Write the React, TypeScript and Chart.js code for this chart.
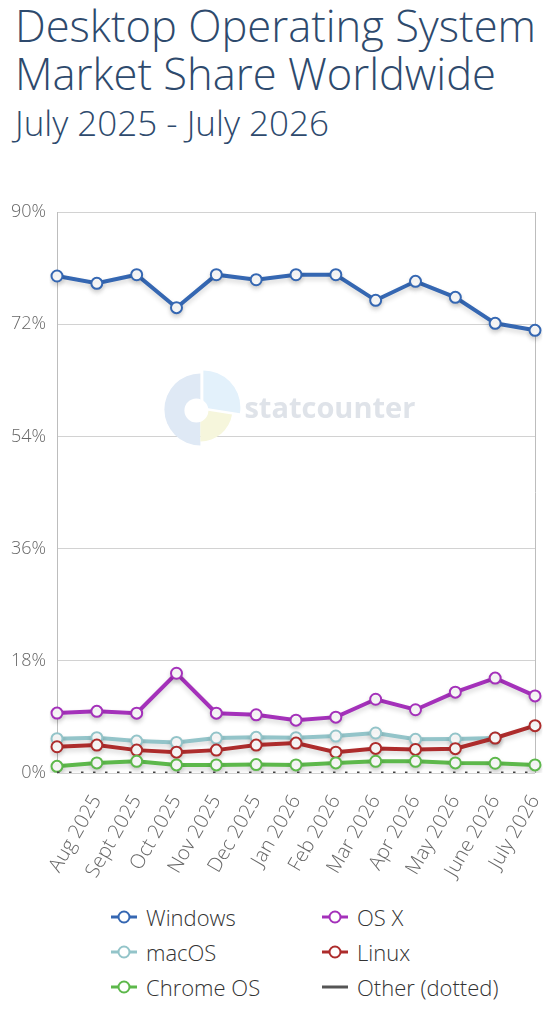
import React, { useEffect, useRef } from "react";
import { Chart, registerables } from "chart.js";

Chart.register(...registerables);

const months = [
  "July 2025", "Aug 2025", "Sept 2025", "Oct 2025", "Nov 2025", "Dec 2025",
  "Jan 2026", "Feb 2026", "Mar 2026", "Apr 2026", "May 2026", "June 2026", "July 2026",
];
const windows = [79.73, 78.56, 79.94, 74.65, 79.94, 79.14, 79.94, 79.94, 75.83, 78.88, 76.31, 72.14, 71.02];
const osx = [9.61, 9.89, 9.6, 16.0, 9.6, 9.34, 8.48, 8.96, 11.83, 10.15, 12.97, 15.23, 12.37];
const macos = [5.51, 5.67, 5.12, 4.91, 5.61, 5.72, 5.67, 5.93, 6.42, 5.4, 5.45, 5.61, null];
const linux = [4.21, 4.48, 3.67, 3.34, 3.67, 4.48, 4.8, 3.34, 3.94, 3.78, 3.9, 5.61, 7.6];
const chromeos = [1.07, 1.62, 1.88, 1.3, 1.3, 1.35, 1.3, 1.62, 1.88, 1.88, 1.62, 1.56, 1.3];
const other = [0.08, 0.08, 0.08, 0.08, 0.08, 0.08, 0.08, 0.08, 0.08, 0.08, 0.08, 0.08, 0.08];
const yTicks = [0, 18, 36, 54, 72, 90];

const FONT = "'Open Sans', 'Noto Sans', sans-serif";

const series = [
  { label: "Windows", data: windows, color: "#3567b2", order: 3 },
  { label: "OS X", data: osx, color: "#a431ba", order: 4 },
  { label: "macOS", data: macos, color: "#93c4c9", order: 5 },
  { label: "Linux", data: linux, color: "#ad2c2c", order: 2 },
  { label: "Chrome OS", data: chromeos, color: "#5db84b", order: 1 },
];

const legendItems = [
  { label: "Windows", color: "#3567b2", dotted: false },
  { label: "OS X", color: "#a431ba", dotted: false },
  { label: "macOS", color: "#93c4c9", dotted: false },
  { label: "Linux", color: "#ad2c2c", dotted: false },
  { label: "Chrome OS", color: "#5db84b", dotted: false },
  { label: "Other (dotted)", color: "#555555", dotted: true },
];

const shadowPlugin = {
  id: "lineShadow",
  beforeDatasetDraw(chart: any) {
    const ctx = chart.ctx;
    ctx.save();
    ctx.shadowColor = "rgba(0,0,0,0.16)";
    ctx.shadowBlur = 5;
    ctx.shadowOffsetX = 0;
    ctx.shadowOffsetY = 3;
  },
  afterDatasetDraw(chart: any) {
    chart.ctx.restore();
  },
};

const framePlugin = {
  id: "frameAndMark",
  beforeDatasetsDraw(chart: any) {
    const ctx = chart.ctx;
    const a = chart.chartArea;
    ctx.save();
    ctx.strokeStyle = "#bdbdbd";
    ctx.lineWidth = 1;
    ctx.beginPath();
    ctx.moveTo(Math.round(a.right) + 0.5, a.top);
    ctx.lineTo(Math.round(a.right) + 0.5, a.bottom);
    ctx.stroke();
    const cx = a.left + (a.right - a.left) * 0.3;
    const cy = a.top + (a.bottom - a.top) * 0.352;
    const R = 36;
    ctx.beginPath();
    ctx.moveTo(cx, cy);
    ctx.arc(cx, cy, R, Math.PI * 0.5, Math.PI * 1.5);
    ctx.closePath();
    ctx.fillStyle = "#dfe9f5";
    ctx.fill();
    ctx.beginPath();
    ctx.moveTo(cx + 3, cy - 2);
    ctx.arc(cx + 3, cy - 2, R + 1, Math.PI * 1.5, Math.PI * 2.05);
    ctx.closePath();
    ctx.fillStyle = "#e3f1fb";
    ctx.fill();
    ctx.beginPath();
    ctx.moveTo(cx, cy);
    ctx.arc(cx, cy, R - 4, Math.PI * 0.05, Math.PI * 0.5);
    ctx.closePath();
    ctx.fillStyle = "#f6f6dc";
    ctx.fill();
    ctx.beginPath();
    ctx.arc(cx - 4, cy + 1, 12, 0, Math.PI * 2);
    ctx.fillStyle = "#ffffff";
    ctx.fill();
    ctx.font = `bold 29px ${FONT}`;
    ctx.fillStyle = "#dfe3e9";
    ctx.textBaseline = "alphabetic";
    ctx.fillText("statcounter", cx + 44, cy + 9);
    ctx.restore();
  },
};

function LegendMarker({ color, dotted }: { color: string; dotted: boolean }) {
  return (
    <svg width="28" height="16" style={{ display: "block" }}>
      <line x1="1" y1="8" x2="27" y2="8" stroke={color} strokeWidth={3} />
      {!dotted && <circle cx="14" cy="8" r="5.5" fill="#fff" stroke={color} strokeWidth={2} />}
    </svg>
  );
}

export default function App() {
  const ref = useRef<HTMLCanvasElement | null>(null);

  useEffect(() => {
    document.body.style.margin = "0";
    const canvas = ref.current;
    if (!canvas) return;
    const datasets: any[] = series.map((s) => ({
      label: s.label,
      data: s.data,
      borderColor: s.color,
      backgroundColor: "#ffffff",
      pointBackgroundColor: "#ffffff",
      pointBorderColor: s.color,
      pointBorderWidth: 2,
      pointRadius: 5.5,
      borderWidth: 4,
      tension: 0,
      fill: false,
      order: s.order,
      spanGaps: false,
    }));
    datasets.push({
      label: "Other",
      data: other,
      borderColor: "#444444",
      borderWidth: 2,
      borderDash: [2.5, 9.5],
      pointRadius: 0,
      fill: false,
      order: 0,
    });
    const chart = new Chart(canvas, {
      type: "line",
      data: { labels: months, datasets },
      plugins: [framePlugin, shadowPlugin],
      options: {
        animation: false,
        responsive: false,
        maintainAspectRatio: false,
        layout: { padding: { left: 0, top: 42, right: 24, bottom: 0 } },
        plugins: { legend: { display: false }, tooltip: { enabled: false }, title: { display: false } },
        scales: {
          x: {
            offset: false,
            grid: { color: "rgba(0,0,0,0)", drawOnChartArea: false, drawTicks: true, tickLength: 6 },
            border: { display: false },
            ticks: {
              autoSkip: false,
              minRotation: 60,
              maxRotation: 60,
              padding: 12,
              color: "#666666",
              font: { family: FONT, size: 20, weight: "300" as any },
              callback: (_v: any, i: number) => (i === 0 ? "" : months[i]),
            },
            afterFit: (s: any) => {
              s.height = 117;
              s.paddingRight = 0;
              s.paddingLeft = 0;
            },
          },
          y: {
            min: 0,
            max: 90,
            afterBuildTicks: (s: any) => {
              s.ticks = yTicks.map((v) => ({ value: v }));
            },
            grid: { color: "#d2d2d2", drawTicks: false, lineWidth: 1 },
            border: { display: true, color: "#bdbdbd" },
            ticks: {
              padding: 11,
              color: "#666666",
              font: { family: FONT, size: 18, weight: "300" as any },
              callback: (v: any) => `${v}%`,
            },
            afterFit: (s: any) => {
              s.width = 57;
              s.paddingTop = 0;
              s.paddingBottom = 0;
            },
          },
        },
      },
    });
    return () => chart.destroy();
  }, []);

  return (
    <div style={{ position: "relative", width: 559, height: 1024, fontFamily: FONT, overflow: "hidden" }}>
      <div style={{ position: "absolute", left: 15, top: 0, color: "#2e4a6d" }}>
        <div style={{ fontSize: 43.5, lineHeight: "48px", fontWeight: 300, whiteSpace: "nowrap", marginTop: 2 }}>
          Desktop Operating System
        </div>
        <div style={{ fontSize: 43.5, lineHeight: "48px", fontWeight: 300, whiteSpace: "nowrap" }}>
          Market Share Worldwide
        </div>
        <div style={{ fontSize: 35, lineHeight: "50px", fontWeight: 300, whiteSpace: "nowrap" }}>
          July 2025 - July 2026
        </div>
      </div>
      <canvas
        ref={ref}
        width={559}
        height={720}
        style={{ position: "absolute", left: 0, top: 170, width: 559, height: 720 }}
      />
      <div style={{ position: "absolute", left: 110, top: 899, width: 420 }}>
        {[0, 1, 2].map((row) => (
          <div key={row} style={{ display: "flex", height: 35 }}>
            {[0, 1].map((col) => {
              const it = legendItems[row * 2 + col];
              return (
                <div key={col} style={{ display: "flex", alignItems: "center", width: col === 0 ? 211 : 209 }}>
                  <LegendMarker color={it.color} dotted={it.dotted} />
                  <span style={{ marginLeft: 8, fontSize: 22, fontWeight: 300, color: "#333333", whiteSpace: "nowrap" }}>
                    {it.label}
                  </span>
                </div>
              );
            })}
          </div>
        ))}
      </div>
    </div>
  );
}
